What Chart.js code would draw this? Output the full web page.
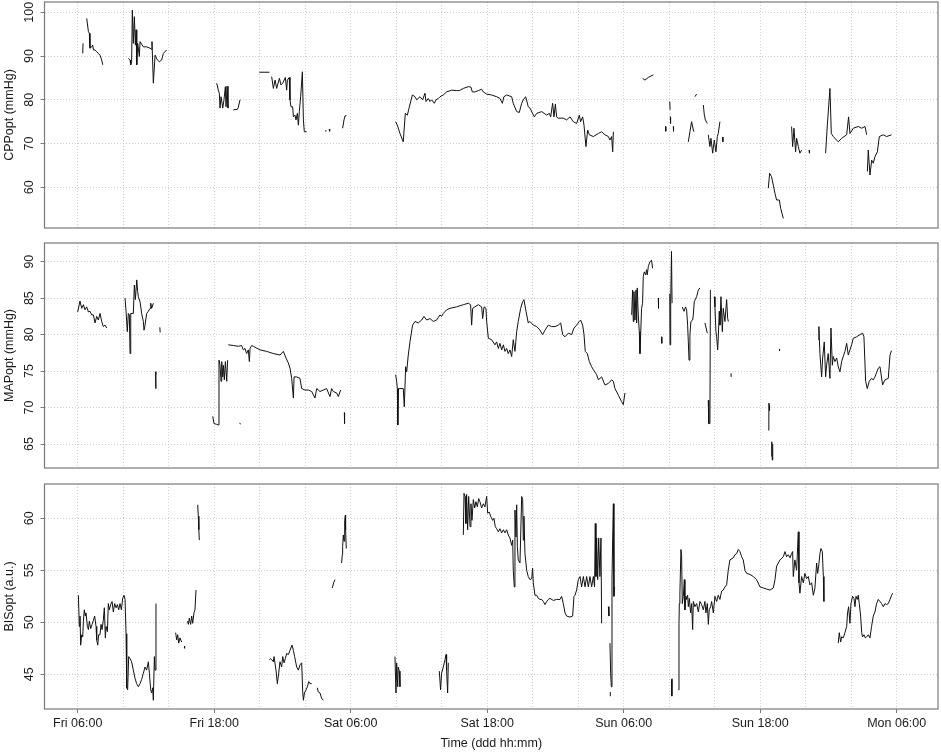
<!DOCTYPE html>
<html>
<head>
<meta charset="utf-8">
<title>CPPopt / MAPopt / BISopt</title>
<script src="https://cdn.jsdelivr.net/npm/chart.js@4.4.1/dist/chart.umd.min.js"></script>
<style>
    html, body {
        margin: 0;
        padding: 0;
        background: #ffffff;
    }

    #page {
        position: relative;
        width: 941px;
        height: 753px;
        overflow: hidden;
    }

    .panel {
        position: absolute;
        left: 0;
        width: 941px;
    }
</style>
</head>
<body>

<div id="page">
    <div class="panel" style="top: 0px; height: 230px;"><canvas id="cppChart"></canvas></div>
    <div class="panel" style="top: 230px; height: 240px;"><canvas id="mapChart"></canvas></div>
    <div class="panel" style="top: 470px; height: 283px;"><canvas id="bisChart"></canvas></div>
</div>

<script>
/*
============================================================
Data
Time is in hours counted from Friday 00:00.
Each series is a list of recorded stretches, each stretch
a list of [hour, value] readings.
============================================================
*/

const dayNames = ["Fri", "Sat", "Sun", "Mon"];

const timeTicks = [6, 10, 14, 18, 22, 26, 30, 34, 38, 42, 46, 50, 54, 58, 62, 66, 70, 74, 78];

const cppTicks = [60, 70, 80, 90, 100];

const mapTicks = [65, 70, 75, 80, 85, 90];

const bisTicks = [45, 50, 55, 60];

const cppSegments = [
    [[6.44, 90.6], [6.47, 92.9]],
    [[6.79, 98.6], [6.94, 95.6], [7.02, 95.2], [7.08, 91.8], [7.23, 92.1], [7.32, 92.5], [7.38, 91.4], [7.52, 91.4], [7.67, 91.0], [7.81, 90.6], [7.96, 90.2], [8.11, 89.1], [8.2, 88.0]],
    [[10.45, 89.5], [10.6, 89.1], [10.66, 88.0], [10.74, 88.7], [10.8, 100.5], [10.89, 92.9], [10.98, 99.0], [11.07, 92.5], [11.13, 96.0], [11.19, 88.0], [11.27, 92.9], [11.42, 89.9], [11.48, 93.3], [11.77, 92.1], [12.06, 92.1], [12.36, 91.8], [12.5, 91.5], [12.53, 93.3], [12.65, 83.8], [12.8, 90.2], [13.0, 89.1], [13.18, 88.7], [13.38, 89.1], [13.53, 90.6], [13.82, 91.4]],
    [[18.22, 83.8], [18.36, 82.2], [18.45, 81.5], [18.51, 78.1], [18.6, 80.7], [18.75, 78.1], [18.86, 80.0], [18.98, 83.0], [19.04, 78.4], [19.13, 83.1], [19.21, 78.1]],
    [[19.68, 77.7], [20.03, 77.8], [20.12, 78.3], [20.27, 80.0]],
    [[21.97, 86.3], [22.85, 86.3]],
    [[23.05, 85.3], [23.2, 82.6], [23.35, 84.5], [23.49, 82.6], [23.73, 84.9], [23.87, 83.4], [24.02, 83.8], [24.25, 85.1], [24.37, 82.2], [24.43, 84.5], [24.6, 85.1], [24.66, 80.0], [24.75, 78.4], [24.9, 78.4], [24.96, 76.1], [25.1, 76.5], [25.19, 75.4], [25.31, 76.9], [25.4, 74.2], [25.48, 77.3], [25.6, 80.7], [25.75, 86.4], [25.84, 75.4], [25.92, 72.7], [26.13, 72.7]],
    [[27.74, 72.9], [27.88, 72.9]],
    [[28.1, 73.3], [28.15, 72.8]],
    [[29.29, 73.5], [29.41, 75.4], [29.5, 76.3], [29.58, 76.5]],
    [[33.95, 75.0], [34.1, 74.2], [34.33, 72.3], [34.62, 70.4], [34.8, 76.9], [34.98, 76.5], [35.09, 77.7], [35.42, 81.1], [35.65, 80.7], [35.8, 80.0], [36.09, 80.7], [36.32, 80.0], [36.53, 81.5], [36.62, 79.6], [36.82, 80.3], [36.97, 79.6], [37.11, 80.0], [37.35, 79.2], [37.5, 80.0], [37.7, 80.3], [37.85, 80.7], [38.14, 81.1], [38.43, 81.8], [38.87, 82.2], [39.31, 82.1], [39.55, 82.1], [39.9, 82.6], [40.34, 83.0], [40.57, 82.9], [40.69, 81.8], [40.92, 81.8], [41.22, 82.1], [41.51, 82.4], [41.66, 81.8], [41.95, 81.3], [42.39, 81.1], [42.83, 80.7], [43.12, 80.3], [43.33, 79.2], [43.47, 80.7], [43.71, 81.1], [44.15, 80.7], [44.29, 79.2], [44.59, 77.3], [44.82, 77.1], [45.03, 79.2], [45.17, 80.0], [45.38, 80.7], [45.61, 78.4], [45.76, 78.1], [46.14, 76.1], [46.35, 76.9], [46.79, 77.3], [47.22, 76.5], [47.46, 76.9], [47.58, 76.1], [47.75, 79.2], [47.87, 76.1], [47.99, 79.0], [48.1, 76.1], [48.25, 75.8], [48.69, 75.8], [48.98, 75.4], [49.28, 76.1], [49.57, 75.0], [49.86, 74.6], [50.1, 76.5], [50.21, 75.0], [50.39, 76.1], [50.51, 74.2], [50.68, 69.3], [50.83, 73.1], [50.98, 72.0], [51.33, 71.6], [51.77, 72.3], [52.06, 72.7], [52.35, 72.0], [52.65, 71.6], [52.79, 70.8], [52.94, 71.6], [53.03, 68.1], [53.09, 72.7]],
    [[55.66, 84.9], [55.87, 84.5], [56.16, 85.1], [56.6, 85.7]],
    [[57.68, 73.9], [57.7, 72.8]],
    [[58.05, 79.6], [58.08, 77.7]],
    [[58.1, 76.1], [58.12, 74.6]],
    [[58.36, 73.9], [58.38, 72.8]],
    [[59.68, 70.4], [59.82, 72.7], [59.97, 75.0], [60.12, 73.1], [60.18, 72.7]],
    [[60.26, 80.7], [60.41, 81.3]],
    [[61.0, 78.8], [61.09, 76.5], [61.18, 75.4], [61.35, 74.6]],
    [[61.44, 72.0], [61.58, 69.3], [61.67, 71.2], [61.82, 67.8], [61.96, 70.8], [62.11, 68.1], [62.23, 71.6], [62.31, 72.3], [62.46, 75.0]],
    [[62.7, 71.5], [62.72, 70.4]],
    [[66.71, 59.8], [66.83, 63.2], [67.0, 62.4], [67.15, 60.5], [67.3, 58.6], [67.44, 57.1], [67.68, 57.1], [67.8, 55.2], [68.03, 52.9]],
    [[68.76, 73.9], [68.85, 69.3], [68.97, 73.5], [69.11, 68.1], [69.2, 71.2], [69.35, 69.3], [69.49, 67.8], [69.64, 68.5]],
    [[70.3, 68.5], [70.33, 67.8]],
    [[71.75, 67.8], [71.9, 74.2], [72.13, 82.6], [72.25, 72.3], [72.42, 71.6], [72.72, 70.8], [72.86, 70.4], [73.16, 71.2], [73.6, 72.0], [73.77, 76.1], [73.89, 72.3], [74.18, 73.5], [74.62, 73.9], [74.92, 73.5], [75.21, 73.9], [75.36, 72.0]],
    [[75.42, 63.6], [75.5, 68.5], [75.65, 62.8], [75.8, 66.2], [75.94, 65.5], [76.09, 67.0], [76.3, 68.1], [76.47, 71.6], [76.82, 72.0], [77.11, 71.6], [77.55, 72.0]]
];

const mapSegments = [
    [[6.0, 83.1], [6.2, 84.6], [6.35, 83.6], [6.5, 84.1], [6.64, 83.4], [6.79, 83.8], [6.94, 83.1], [7.08, 83.2], [7.23, 82.7], [7.38, 82.7], [7.52, 81.6], [7.67, 82.5], [7.81, 82.0], [7.96, 82.9], [8.11, 81.8], [8.25, 81.1], [8.4, 81.3], [8.55, 80.9]],
    [[10.16, 85.0], [10.25, 83.2], [10.36, 80.4], [10.45, 82.9], [10.54, 82.7], [10.6, 77.4], [10.66, 82.9], [10.89, 82.9], [10.98, 86.8], [11.07, 84.8], [11.19, 87.5], [11.27, 85.9], [11.33, 85.2], [11.48, 84.5], [11.62, 82.9], [11.77, 81.8], [11.83, 80.6], [11.92, 81.3], [12.06, 82.9], [12.21, 83.2], [12.36, 83.6], [12.42, 84.3], [12.5, 83.6], [12.65, 84.3]],
    [[12.84, 74.9], [12.86, 72.6], [12.88, 74.5]],
    [[13.22, 81.0], [13.25, 80.3]],
    [[17.87, 68.8], [17.98, 67.8], [18.22, 67.7], [18.36, 67.6], [18.42, 76.5], [18.51, 75.8], [18.6, 73.6], [18.66, 76.3], [18.75, 74.2], [18.8, 75.8], [18.89, 73.8], [18.98, 76.3], [19.1, 73.6], [19.18, 76.5]],
    [[19.24, 78.6], [19.68, 78.5], [20.12, 78.4], [20.41, 78.5], [20.56, 77.9], [20.71, 78.1], [20.85, 77.4], [21.0, 77.9], [21.09, 76.3], [21.15, 78.1], [21.29, 78.5], [21.44, 78.4], [22.03, 77.9], [22.61, 77.7], [23.2, 77.4], [23.79, 77.2], [24.08, 77.7], [24.31, 76.8], [24.52, 76.1], [24.66, 75.4], [24.81, 74.0], [24.96, 71.3], [25.02, 74.2], [25.25, 74.2], [25.54, 74.0], [25.69, 72.6], [25.98, 72.4], [26.28, 72.4], [26.57, 72.2], [26.86, 71.3], [27.01, 72.6], [27.3, 72.2], [27.59, 72.4], [27.88, 72.6], [28.18, 71.5], [28.32, 72.6], [28.47, 72.2], [28.76, 72.0], [28.91, 71.5], [29.12, 72.4]],
    [[20.25, 67.9], [20.3, 67.7]],
    [[29.44, 69.3], [29.46, 67.8]],
    [[33.95, 74.5], [34.04, 73.6], [34.1, 72.6], [34.14, 67.6], [34.2, 72.6], [34.62, 72.6], [34.71, 70.1], [34.83, 75.6], [34.92, 74.9], [35.06, 77.2], [35.21, 79.0], [35.44, 81.3], [35.65, 81.8], [35.94, 81.6], [36.24, 82.0], [36.44, 82.5], [36.68, 82.0], [36.97, 82.2], [37.26, 81.8], [37.55, 82.0], [37.85, 82.7], [37.99, 82.5], [38.14, 82.9], [38.43, 83.4], [38.73, 83.6], [39.31, 83.8], [39.9, 84.1], [40.34, 84.3], [40.54, 84.1], [40.63, 81.3], [40.72, 83.6], [40.92, 83.8], [41.22, 84.1], [41.51, 83.8], [41.6, 82.2], [41.72, 83.8], [41.89, 83.6], [41.95, 81.8], [42.1, 79.5], [42.39, 79.3], [42.68, 78.6], [42.83, 79.0], [42.98, 78.1], [43.12, 78.8], [43.27, 77.9], [43.42, 78.6], [43.56, 77.7], [43.71, 78.1], [43.85, 77.4], [44.0, 77.9], [44.15, 77.0], [44.29, 79.3], [44.44, 77.7], [44.59, 80.4], [44.73, 81.8], [44.94, 83.6], [45.11, 84.5], [45.23, 84.8], [45.41, 83.2], [45.61, 81.6], [45.76, 81.8], [46.05, 81.3], [46.35, 81.1], [46.64, 80.6], [46.87, 80.0], [47.08, 80.6], [47.37, 81.3], [47.66, 81.1], [47.96, 81.1], [48.25, 81.3], [48.46, 81.6], [48.63, 80.0], [48.84, 79.7], [49.13, 80.2], [49.42, 80.0], [49.63, 80.9], [49.86, 81.3], [50.1, 81.8], [50.21, 82.0], [50.39, 81.3], [50.51, 80.0], [50.62, 77.7], [50.8, 77.4], [50.98, 76.3], [51.18, 75.6], [51.33, 75.2], [51.62, 74.5], [51.77, 73.8], [52.06, 74.2], [52.35, 73.1], [52.65, 73.3], [52.94, 73.8], [53.09, 73.6], [53.23, 72.6], [53.53, 71.7], [53.82, 70.8], [53.96, 70.4], [54.11, 72.0]],
    [[54.7, 82.7], [54.78, 86.1], [54.84, 81.8], [54.9, 85.9], [54.99, 82.0], [55.08, 86.1], [55.14, 81.6], [55.19, 86.4], [55.28, 82.7], [55.37, 80.4], [55.43, 77.4], [55.49, 80.0], [55.57, 83.6], [55.66, 84.3], [55.72, 88.0], [55.81, 88.6], [55.93, 88.2], [56.01, 88.9], [56.07, 88.2], [56.16, 89.3], [56.31, 90.0], [56.45, 90.2], [56.54, 89.1]],
    [[57.04, 85.0], [57.06, 83.6]],
    [[57.33, 79.7], [57.35, 78.8]],
    [[58.05, 85.6], [58.07, 78.6], [58.13, 84.5], [58.2, 91.4], [58.25, 84.3]],
    [[59.15, 83.8], [59.3, 83.2], [59.44, 83.8], [59.53, 83.4], [59.62, 81.3], [59.68, 79.0], [59.74, 76.5], [59.82, 80.0], [59.91, 81.8], [60.06, 82.0], [60.12, 82.7], [60.2, 84.5], [60.41, 85.2], [60.56, 86.1], [60.7, 86.4]],
    [[61.14, 81.6], [61.35, 80.2]],
    [[61.43, 71.0], [61.48, 67.8], [61.58, 67.8], [61.62, 86.1]],
    [[61.96, 85.2], [62.02, 83.8], [62.11, 80.4], [62.17, 79.7], [62.26, 77.9], [62.31, 79.5], [62.4, 83.2], [62.46, 81.3], [62.55, 85.2], [62.67, 80.4], [62.75, 83.6], [62.9, 81.8], [63.05, 84.8], [63.14, 82.2], [63.2, 81.8]],
    [[63.43, 74.7], [63.45, 74.2]],
    [[66.72, 66.9], [66.76, 70.6], [66.8, 70.3], [66.82, 69.6]],
    [[67.0, 63.3], [67.02, 65.3], [67.06, 62.8], [67.1, 65.0]],
    [[67.68, 78.0], [67.7, 77.8]],
    [[71.11, 79.3], [71.16, 81.1], [71.25, 77.4], [71.4, 74.2], [71.49, 76.8], [71.63, 79.0], [71.75, 74.2], [71.84, 75.8], [71.98, 77.4], [72.13, 74.0], [72.22, 80.9], [72.34, 75.8], [72.42, 77.0], [72.57, 76.3], [72.72, 76.8], [72.86, 75.6], [73.01, 74.9], [73.16, 76.3], [73.3, 77.0], [73.45, 77.7], [73.6, 78.8], [73.74, 77.2], [73.89, 77.9], [74.04, 78.6], [74.18, 79.5], [74.48, 79.7], [74.77, 80.0], [75.0, 80.2], [75.12, 79.7], [75.27, 73.6], [75.41, 72.6], [75.59, 73.6], [75.79, 74.0], [75.94, 73.8], [76.09, 74.2], [76.38, 75.4], [76.53, 75.6], [76.76, 73.1], [76.97, 73.8], [77.26, 74.0], [77.41, 77.2], [77.55, 77.8]]
];

const bisSegments = [
    [[6.06, 52.6], [6.14, 49.6], [6.2, 50.6], [6.26, 47.8], [6.35, 48.8], [6.44, 48.6], [6.5, 50.1], [6.58, 51.2], [6.67, 50.6], [6.73, 50.9], [6.85, 49.6], [6.94, 49.3], [7.02, 50.1], [7.14, 49.4], [7.26, 49.8], [7.38, 50.2], [7.49, 50.6], [7.61, 49.6], [7.67, 48.3], [7.76, 47.8], [7.84, 48.8], [7.96, 48.8], [8.05, 49.8], [8.14, 49.3], [8.25, 50.2], [8.34, 51.4], [8.43, 48.5], [8.49, 49.6], [8.61, 49.1], [8.69, 51.8], [8.78, 51.2], [8.9, 51.7], [9.02, 52.0], [9.13, 51.0], [9.25, 51.8], [9.37, 51.4], [9.49, 51.7], [9.6, 51.2], [9.72, 51.8], [9.84, 51.2], [9.95, 52.3], [10.07, 52.6], [10.16, 52.2], [10.25, 48.9], [10.31, 43.7], [10.39, 43.5], [10.48, 46.7], [10.6, 46.5], [10.74, 46.2], [10.89, 45.4], [11.04, 44.6], [11.18, 44.1], [11.33, 43.8], [11.48, 44.1], [11.62, 44.5], [11.77, 45.1], [11.92, 45.7], [12.06, 45.4], [12.21, 46.2], [12.3, 45.1], [12.42, 43.5], [12.5, 43.2], [12.59, 43.7], [12.65, 42.5], [12.74, 46.7], [12.8, 45.4], [12.88, 51.8]],
    [[14.61, 49.0], [14.7, 48.3], [14.79, 48.8], [14.88, 48.0], [14.99, 48.5], [15.14, 48.1]],
    [[15.38, 47.7], [15.4, 47.5]],
    [[15.64, 50.1], [15.73, 49.8], [15.81, 50.4], [15.93, 49.8], [16.02, 50.6], [16.11, 49.9], [16.22, 50.9], [16.31, 51.2], [16.4, 53.1]],
    [[16.55, 61.3], [16.6, 60.2], [16.65, 58.9], [16.69, 57.9]],
    [[22.85, 46.4], [22.97, 46.5], [23.05, 46.4], [23.2, 46.2], [23.26, 46.7], [23.43, 45.4], [23.55, 44.1], [23.67, 45.1], [23.78, 46.2], [23.93, 45.7], [24.02, 46.7], [24.14, 46.1], [24.25, 46.5], [24.37, 47.0], [24.52, 46.9], [24.66, 47.3], [24.84, 47.8], [24.96, 47.3], [25.07, 46.7], [25.25, 45.7], [25.4, 45.4], [25.54, 45.9], [25.69, 46.1], [25.78, 43.3], [25.84, 42.5], [25.93, 43.2], [26.07, 43.5], [26.19, 43.8], [26.31, 44.3], [26.42, 44.1], [26.57, 44.1]],
    [[27.06, 43.7], [27.15, 43.3], [27.3, 43.2], [27.44, 42.7], [27.59, 42.5]],
    [[28.38, 53.3], [28.5, 53.8], [28.62, 54.1]],
    [[29.2, 55.7], [29.26, 56.5], [29.29, 57.3], [29.35, 58.4], [29.41, 57.8], [29.47, 59.8], [29.53, 60.3], [29.55, 58.9], [29.61, 57.1]],
    [[33.89, 46.7], [33.98, 43.2], [34.04, 46.1], [34.13, 43.8], [34.18, 45.7], [34.27, 45.3], [34.33, 43.8]],
    [[37.79, 45.3], [37.9, 43.5], [37.99, 45.1], [38.14, 45.7], [38.29, 46.4], [38.38, 46.9], [38.43, 45.4], [38.52, 43.2], [38.58, 46.1]],
    [[39.9, 58.4], [39.96, 62.4], [40.05, 62.1], [40.13, 59.5], [40.19, 62.3], [40.28, 58.9], [40.37, 62.1], [40.49, 59.2], [40.57, 61.4], [40.66, 59.8], [40.78, 61.8], [40.9, 61.0], [41.01, 61.6], [41.13, 61.1], [41.25, 61.9], [41.36, 61.6], [41.51, 61.0], [41.66, 61.4], [41.8, 61.1], [41.95, 62.1], [42.04, 60.5], [42.18, 60.6], [42.3, 60.2], [42.48, 59.8], [42.59, 60.0], [42.71, 59.2], [42.83, 59.0], [42.98, 58.7], [43.12, 59.0], [43.27, 58.6], [43.42, 58.9], [43.56, 58.6], [43.71, 58.9], [43.85, 58.4], [44.0, 58.1], [44.15, 57.4], [44.24, 57.9], [44.29, 55.0], [44.38, 53.4], [44.44, 60.8], [44.53, 58.2], [44.59, 61.3], [44.65, 57.3], [44.73, 56.0], [44.88, 55.7], [45.03, 62.1], [45.12, 61.8], [45.17, 57.9], [45.23, 60.2], [45.32, 56.6], [45.47, 55.0], [45.61, 54.4], [45.76, 54.1], [45.91, 54.2], [45.99, 55.2], [46.05, 53.8], [46.2, 52.6], [46.35, 52.6], [46.49, 52.3], [46.64, 52.2], [46.79, 52.2], [46.93, 52.0], [47.08, 51.7], [47.23, 52.0], [47.37, 52.2], [47.52, 52.3], [47.81, 52.1], [48.1, 52.2], [48.4, 52.2], [48.54, 52.5], [48.69, 51.8], [48.84, 50.9], [48.98, 50.6], [49.28, 50.5], [49.51, 50.6], [49.63, 52.5], [49.72, 52.6], [49.86, 53.1], [50.01, 54.1], [50.16, 54.4], [50.3, 53.4], [50.45, 54.4], [50.6, 53.4], [50.74, 54.4], [50.89, 53.4], [51.03, 54.4], [51.18, 53.4], [51.33, 54.4], [51.44, 53.4], [51.5, 59.5], [51.56, 54.4], [51.62, 58.1], [51.71, 54.1], [51.8, 58.1], [51.91, 54.4], [52.0, 58.1], [52.06, 49.9]],
    [[52.65, 51.5], [52.7, 50.6]],
    [[52.8, 42.9], [52.82, 43.3]],
    [[52.79, 48.0], [52.85, 45.1], [52.91, 43.8], [52.97, 54.1], [53.03, 58.1], [53.09, 61.4], [53.14, 52.5], [53.2, 53.4]],
    [[58.21, 44.5], [58.23, 42.9], [58.25, 44.6]],
    [[58.8, 43.5], [58.86, 49.9], [58.89, 51.8], [58.94, 52.8], [59.03, 57.0], [59.09, 56.5], [59.15, 51.8], [59.24, 52.5], [59.33, 54.1], [59.38, 51.2], [59.47, 52.5], [59.53, 52.2], [59.62, 52.6], [59.68, 51.5], [59.77, 52.3], [59.88, 50.9], [59.97, 51.8], [60.06, 49.3], [60.12, 52.0], [60.26, 51.5], [60.41, 51.8], [60.56, 51.0], [60.7, 52.0], [60.85, 51.7], [61.0, 51.2], [61.14, 52.0], [61.23, 50.9], [61.35, 51.8], [61.44, 49.8], [61.52, 51.2], [61.64, 51.5], [61.73, 52.0], [61.88, 50.9], [62.02, 52.5], [62.17, 52.0], [62.31, 52.6], [62.46, 52.2], [62.61, 53.0], [62.75, 53.1], [62.9, 53.4], [63.05, 53.6], [63.19, 55.0], [63.34, 56.0], [63.63, 56.2], [63.78, 56.5], [63.93, 56.6], [64.07, 57.0], [64.22, 56.8], [64.37, 56.3], [64.51, 56.0], [64.66, 55.0], [64.81, 54.7], [65.1, 54.6], [65.39, 54.4], [65.68, 54.1], [65.98, 53.4], [66.27, 53.3], [66.56, 53.2], [66.86, 53.1], [67.15, 53.3], [67.3, 54.1], [67.44, 55.4], [67.74, 56.0], [68.03, 56.3], [68.18, 56.8], [68.32, 56.3], [68.47, 56.5], [68.62, 56.2], [68.76, 56.6], [68.85, 56.8], [68.91, 54.4], [69.05, 56.0], [69.2, 55.0], [69.35, 58.7], [69.41, 53.8], [69.49, 52.8], [69.64, 54.4], [69.79, 53.8], [69.93, 54.7], [70.08, 54.2], [70.23, 54.4], [70.37, 53.6], [70.52, 53.8], [70.67, 52.6], [70.81, 53.3], [70.96, 55.7], [71.05, 54.7], [71.14, 55.4], [71.25, 56.6], [71.34, 57.1], [71.46, 56.8], [71.55, 54.4], [71.6, 52.0]],
    [[72.86, 48.0], [72.95, 49.0], [73.07, 48.1], [73.16, 48.6], [73.3, 48.5], [73.45, 49.0], [73.6, 49.6], [73.68, 50.9], [73.77, 51.5], [73.89, 49.9], [73.98, 51.8], [74.12, 52.5], [74.24, 52.3], [74.33, 51.5], [74.42, 52.5], [74.53, 52.2], [74.62, 52.6], [74.71, 51.8], [74.83, 50.6], [74.92, 49.0], [75.0, 48.6], [75.12, 48.8], [75.24, 48.5], [75.36, 48.6], [75.5, 48.8], [75.65, 48.5], [75.79, 49.6], [75.94, 50.6], [76.09, 51.0], [76.23, 51.8], [76.38, 52.2], [76.53, 52.0], [76.67, 51.8], [76.82, 51.5], [76.97, 51.8], [77.11, 51.7], [77.26, 51.8], [77.41, 52.2], [77.55, 52.6], [77.64, 52.8]]
];

/*
============================================================
Styles
============================================================
*/

const TEXT_COLOR = "#1a1a1a";

const LINE_COLOR = "#111111";

const GRID_COLOR = "#cfcfcf";

const FRAME_COLOR = "#7a7a7a";

const TIME_MIN = 3.08;

const TIME_MAX = 81.63;

Chart.defaults.font.family = "'Liberation Sans', Arial, sans-serif";

Chart.defaults.font.size = 12.5;

Chart.defaults.color = TEXT_COLOR;

/*
============================================================
Helpers
============================================================
*/

function toPoints(segments) {

    const points = [];

    segments.forEach(segment => {

        segment.forEach(([hour, value]) => {

            points.push({ x: hour, y: value });

        });

        // break the line between recorded stretches
        points.push({ x: segment[segment.length - 1][0], y: null });

    });

    return points;

}

function timeLabel(hour) {

    if ((hour - 6) % 12 !== 0) {

        return "";

    }

    const day = dayNames[Math.floor(hour / 24)];

    const hh = String(hour % 24).padStart(2, "0");

    return day + " " + hh + ":00";

}

const framePlugin = {

    id: "frame",

    afterDraw(chart) {

        const { ctx, chartArea } = chart;

        ctx.save();

        ctx.strokeStyle = FRAME_COLOR;

        ctx.lineWidth = 1.2;

        ctx.strokeRect(
            chartArea.left,
            chartArea.top,
            chartArea.right - chartArea.left,
            chartArea.bottom - chartArea.top
        );

        ctx.restore();

    }

};

/*
============================================================
Panel
============================================================
*/

function createPanel(canvasId, settings) {

    const showTime = settings.showTime;

    return new Chart(

        document.getElementById(canvasId),

        {

            type: "line",

            data: {

                datasets: [

                    {

                        label: settings.title,

                        data: toPoints(settings.segments),

                        borderColor: LINE_COLOR,

                        borderWidth: 1,

                        pointRadius: 0,

                        pointHoverRadius: 0,

                        tension: 0,

                        spanGaps: false

                    }

                ]

            },

            options: {

                responsive: true,

                maintainAspectRatio: false,

                animation: false,

                events: [],

                layout: {

                    padding: {

                        top: settings.padTop,

                        bottom: settings.padBottom,

                        left: 0,

                        right: 3

                    }

                },

                plugins: {

                    legend: { display: false },

                    tooltip: { enabled: false }

                },

                scales: {

                    x: {

                        type: "linear",

                        min: TIME_MIN,

                        max: TIME_MAX,

                        afterBuildTicks: scale => {

                            scale.ticks = timeTicks.map(value => ({ value }));

                        },

                        afterFit: scale => {

                            scale.height = showTime ? 44 : 0;

                            scale.paddingLeft = 0;

                            scale.paddingRight = 0;

                        },

                        grid: {

                            color: GRID_COLOR,

                            lineWidth: 1,

                            drawTicks: showTime,

                            tickLength: 4,

                            tickWidth: 1,

                            tickBorderDash: [],

                            tickColor: context =>
                                context.tick && timeLabel(context.tick.value) !== ""
                                    ? FRAME_COLOR
                                    : "rgba(0,0,0,0)"

                        },

                        border: {

                            display: false,

                            dash: [1, 2]

                        },

                        ticks: {

                            display: showTime,

                            autoSkip: false,

                            minRotation: 0,

                            maxRotation: 0,

                            padding: 3,

                            color: TEXT_COLOR,

                            callback: value => timeLabel(value)

                        },

                        title: {

                            display: showTime,

                            text: "Time (ddd hh:mm)",

                            color: TEXT_COLOR,

                            padding: { top: 0, bottom: 2.3 }

                        }

                    },

                    y: {

                        min: settings.min,

                        max: settings.max,

                        afterBuildTicks: scale => {

                            scale.ticks = settings.ticks.map(value => ({ value }));

                        },

                        afterFit: scale => {

                            scale.width = 44.5;

                            scale.paddingTop = 0;

                            scale.paddingBottom = 0;

                        },

                        grid: {

                            color: GRID_COLOR,

                            lineWidth: 1,

                            drawTicks: true,

                            tickLength: 4,

                            tickWidth: 1,

                            tickBorderDash: [],

                            tickColor: FRAME_COLOR

                        },

                        border: {

                            display: false,

                            dash: [1, 2]

                        },

                        ticks: {

                            minRotation: 90,

                            maxRotation: 90,

                            crossAlign: "center",

                            padding: settings.tickPadding,

                            color: TEXT_COLOR

                        },

                        title: {

                            display: true,

                            text: settings.title,

                            color: TEXT_COLOR,

                            padding: { top: 2, bottom: 0 }

                        }

                    }

                }

            },

            plugins: [framePlugin]

        }

    );

}

/*
============================================================
Build
============================================================
*/

createPanel("cppChart", {

    title: "CPPopt (mmHg)",

    segments: cppSegments,

    ticks: cppTicks,

    min: 50.7,

    max: 102.35,

    padTop: 2,

    padBottom: 2,

    tickPadding: 0.9,

    showTime: false

});

createPanel("mapChart", {

    title: "MAPopt (mmHg)",

    segments: mapSegments,

    ticks: mapTicks,

    min: 61.71,

    max: 92.56,

    padTop: 13,

    padBottom: 2,

    tickPadding: 4.35,

    showTime: false

});

createPanel("bisChart", {

    title: "BISopt (a.u.)",

    segments: bisSegments,

    ticks: bisTicks,

    min: 41.66,

    max: 63.3,

    padTop: 14,

    padBottom: 0,

    tickPadding: 4.35,

    showTime: true

});
</script>
</body>
</html>
